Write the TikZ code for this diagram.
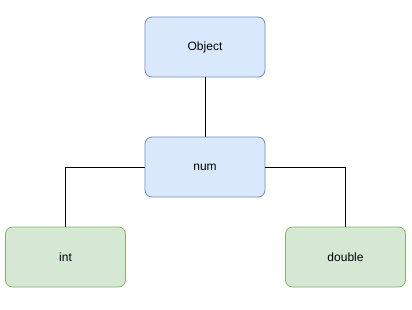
\documentclass[tikz,border=0pt]{standalone}
\usepackage{fontspec}
\setmainfont{Liberation Sans}
\definecolor{bfill}{HTML}{DAE8FC}
\definecolor{bdraw}{HTML}{6C8EBF}
\definecolor{gfill}{HTML}{D5E8D4}
\definecolor{gdraw}{HTML}{82B366}
\begin{document}
\begin{tikzpicture}[x=1pt,y=-1pt,
  box/.style={rectangle,rounded corners=7pt,minimum width=120pt,minimum height=60pt,inner sep=0pt,font=\fontsize{12}{14}\selectfont,line width=0.8pt},
  bluebox/.style={box,fill=bfill,draw=bdraw},
  greenbox/.style={box,fill=gfill,draw=gdraw},
  conn/.style={draw=black,line width=1pt}]
\useasboundingbox (0,0) rectangle (412,309);
\node[bluebox] (obj) at (205,47) {Object};
\node[bluebox] (num) at (205,167) {num};
\node[greenbox] (int) at (65.5,257) {int};
\node[greenbox] (dbl) at (345.5,257) {double};
\draw[conn] (obj.south) -- (num.north);
\draw[conn] (num.west) -| (int.north);
\draw[conn] (num.east) -| (dbl.north);
\end{tikzpicture}
\end{document}
